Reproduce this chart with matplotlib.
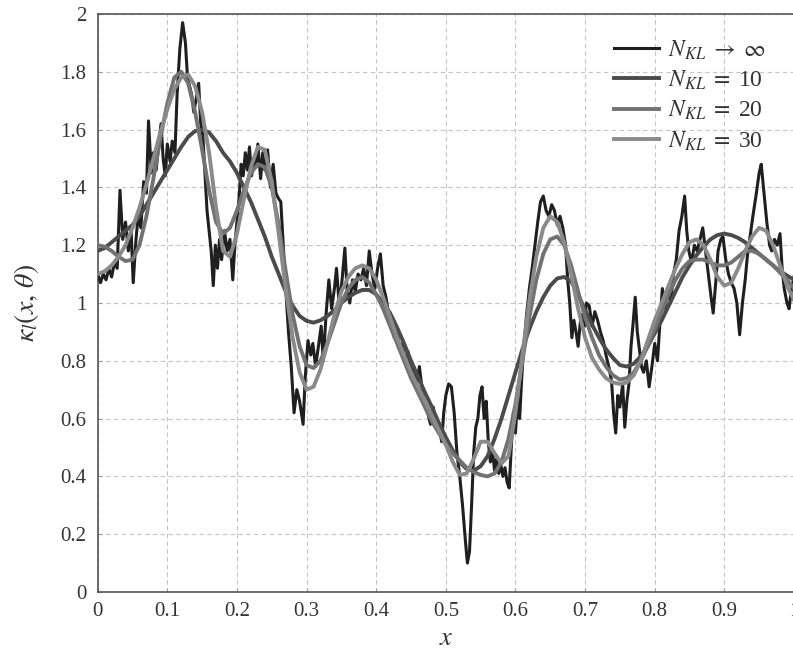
import numpy as np
import matplotlib
matplotlib.use("Agg")
import matplotlib.pyplot as plt

plt.rcParams["font.family"] = ["Liberation Serif", "DejaVu Serif"]
plt.rcParams["mathtext.fontset"] = "stix"

# Smooth truncated expansions, sampled every 0.01 on [0, 1]
x_smooth = [round(0.01 * i, 2) for i in range(101)]

k_n10 = [1.18, 1.19, 1.21, 1.23, 1.25, 1.27, 1.30, 1.34, 1.38, 1.42,
         1.46, 1.50, 1.54, 1.575, 1.595, 1.60, 1.59, 1.56, 1.52, 1.49,
         1.45, 1.40, 1.35, 1.29, 1.23, 1.16, 1.10, 1.04, 0.99, 0.955,
         0.938, 0.932, 0.94, 0.955, 0.975, 1.00, 1.02, 1.035, 1.045, 1.045,
         1.03, 1.00, 0.965, 0.915, 0.86, 0.80, 0.745, 0.69, 0.64, 0.585,
         0.535, 0.49, 0.45, 0.425, 0.42, 0.435, 0.47, 0.53, 0.60, 0.68,
         0.76, 0.84, 0.91, 0.97, 1.02, 1.06, 1.085, 1.09, 1.075, 1.03,
         0.975, 0.925, 0.88, 0.84, 0.81, 0.785, 0.78, 0.79, 0.815, 0.85,
         0.895, 0.94, 0.99, 1.04, 1.09, 1.13, 1.165, 1.195, 1.22, 1.235,
         1.24, 1.235, 1.225, 1.21, 1.19, 1.17, 1.15, 1.13, 1.11, 1.095,
         1.08]

k_n20 = [1.20, 1.195, 1.18, 1.16, 1.145, 1.15, 1.20, 1.30, 1.43, 1.57,
         1.69, 1.78, 1.80, 1.76, 1.66, 1.53, 1.39, 1.28, 1.24, 1.26,
         1.32, 1.39, 1.45, 1.48, 1.47, 1.40, 1.27, 1.11, 0.96, 0.85,
         0.785, 0.775, 0.80, 0.86, 0.93, 1.00, 1.05, 1.08, 1.09, 1.07,
         1.03, 0.98, 0.92, 0.86, 0.80, 0.74, 0.69, 0.64, 0.59, 0.55,
         0.51, 0.48, 0.455, 0.43, 0.415, 0.405, 0.40, 0.41, 0.45, 0.53,
         0.65, 0.80, 0.95, 1.08, 1.17, 1.22, 1.23, 1.20, 1.13, 1.04,
         0.95, 0.88, 0.82, 0.78, 0.75, 0.735, 0.74, 0.76, 0.80, 0.85,
         0.91, 0.97, 1.03, 1.08, 1.12, 1.145, 1.15, 1.15, 1.14, 1.13,
         1.13, 1.14, 1.16, 1.18, 1.18, 1.17, 1.15, 1.13, 1.105, 1.08,
         1.05]

k_n30 = [1.10, 1.11, 1.13, 1.16, 1.20, 1.26, 1.33, 1.41, 1.50, 1.59,
         1.67, 1.74, 1.78, 1.79, 1.75, 1.66, 1.52, 1.33, 1.18, 1.16,
         1.24, 1.36, 1.47, 1.54, 1.53, 1.42, 1.24, 1.05, 0.88, 0.76,
         0.70, 0.71, 0.77, 0.86, 0.96, 1.04, 1.09, 1.12, 1.13, 1.12,
         1.08, 1.02, 0.95, 0.88, 0.82, 0.76, 0.71, 0.66, 0.61, 0.56,
         0.51, 0.45, 0.405, 0.41, 0.46, 0.52, 0.52, 0.48, 0.445, 0.47,
         0.62, 0.82, 1.01, 1.16, 1.26, 1.30, 1.28, 1.21, 1.10, 0.98,
         0.88, 0.81, 0.77, 0.74, 0.725, 0.72, 0.725, 0.75, 0.80, 0.87,
         0.94, 1.00, 1.06, 1.12, 1.17, 1.21, 1.22, 1.20, 1.15, 1.09,
         1.06, 1.07, 1.12, 1.18, 1.23, 1.26, 1.25, 1.20, 1.13, 1.06,
         1.01]

# Full (untruncated) field
x_full = [0.000, 0.004, 0.008, 0.012, 0.016, 0.020, 0.024, 0.028, 0.032, 0.036,
          0.040, 0.044, 0.048, 0.051, 0.055, 0.058, 0.062, 0.066, 0.070, 0.073,
          0.077, 0.080, 0.084, 0.088, 0.091, 0.094, 0.097, 0.100, 0.104, 0.107,
          0.111, 0.114, 0.118, 0.122, 0.126, 0.129, 0.132, 0.135, 0.138, 0.141,
          0.145, 0.148, 0.151, 0.154, 0.157, 0.160, 0.163, 0.166, 0.169, 0.172,
          0.175, 0.178, 0.182, 0.186, 0.190, 0.194, 0.197, 0.200, 0.203, 0.206,
          0.209, 0.212, 0.215, 0.218, 0.221, 0.224, 0.227, 0.230, 0.234, 0.237,
          0.240, 0.244, 0.248, 0.252, 0.256, 0.260, 0.263, 0.266, 0.270, 0.274,
          0.278, 0.282, 0.286, 0.290, 0.295, 0.298, 0.302, 0.306, 0.309, 0.313,
          0.317, 0.321, 0.324, 0.328, 0.332, 0.336, 0.340, 0.343, 0.347, 0.351,
          0.355, 0.358, 0.362, 0.366, 0.370, 0.374, 0.378, 0.382, 0.386, 0.390,
          0.394, 0.398, 0.402, 0.406, 0.410, 0.414, 0.418, 0.422, 0.426, 0.430,
          0.434, 0.438, 0.442, 0.446, 0.450, 0.454, 0.458, 0.462, 0.466, 0.470,
          0.474, 0.478, 0.482, 0.486, 0.490, 0.494, 0.497, 0.500, 0.504, 0.508,
          0.512, 0.516, 0.520, 0.524, 0.528, 0.531, 0.534, 0.537, 0.540, 0.543,
          0.546, 0.549, 0.552, 0.555, 0.558, 0.561, 0.564, 0.567, 0.570, 0.573,
          0.576, 0.579, 0.582, 0.585, 0.588, 0.591, 0.594, 0.597, 0.600, 0.603,
          0.606, 0.609, 0.612, 0.616, 0.620, 0.624, 0.628, 0.632, 0.636, 0.640,
          0.644, 0.648, 0.652, 0.656, 0.660, 0.664, 0.668, 0.672, 0.675, 0.678,
          0.681, 0.684, 0.687, 0.690, 0.693, 0.696, 0.699, 0.702, 0.706, 0.710,
          0.714, 0.718, 0.722, 0.726, 0.730, 0.734, 0.738, 0.741, 0.744, 0.747,
          0.750, 0.754, 0.757, 0.760, 0.763, 0.766, 0.769, 0.772, 0.775, 0.778,
          0.781, 0.784, 0.788, 0.792, 0.796, 0.800, 0.804, 0.808, 0.811, 0.815,
          0.819, 0.823, 0.827, 0.831, 0.835, 0.839, 0.843, 0.846, 0.849, 0.853,
          0.857, 0.861, 0.865, 0.869, 0.873, 0.877, 0.881, 0.884, 0.888, 0.891,
          0.895, 0.898, 0.902, 0.906, 0.910, 0.914, 0.918, 0.922, 0.926, 0.930,
          0.933, 0.937, 0.941, 0.946, 0.950, 0.953, 0.957, 0.961, 0.965, 0.968,
          0.972, 0.976, 0.980, 0.983, 0.986, 0.990, 0.993, 0.996, 1.000]

k_full = [1.10, 1.07, 1.10, 1.08, 1.12, 1.09, 1.14, 1.12, 1.39, 1.22,
          1.28, 1.18, 1.25, 1.07, 1.22, 1.30, 1.26, 1.42, 1.38, 1.63,
          1.45, 1.52, 1.46, 1.56, 1.62, 1.50, 1.44, 1.55, 1.49, 1.56,
          1.52, 1.72, 1.88, 1.97, 1.90, 1.78, 1.75, 1.72, 1.66, 1.70,
          1.76, 1.62, 1.58, 1.45, 1.32, 1.25, 1.18, 1.06, 1.20, 1.12,
          1.22, 1.15, 1.25, 1.18, 1.22, 1.08, 1.20, 1.28, 1.36, 1.48,
          1.44, 1.52, 1.46, 1.54, 1.44, 1.50, 1.47, 1.55, 1.43, 1.52,
          1.46, 1.53, 1.40, 1.48, 1.38, 1.36, 1.35, 1.22, 1.05, 0.90,
          0.78, 0.62, 0.70, 0.66, 0.58, 0.74, 0.87, 0.82, 0.86, 0.78,
          0.85, 0.92, 0.80, 0.96, 1.08, 0.98, 1.05, 1.12, 0.99, 1.08,
          1.19, 1.05, 1.00, 1.08, 1.04, 1.10, 1.08, 1.12, 1.06, 1.18,
          1.10, 1.05, 1.12, 1.17, 1.06, 1.02, 0.96, 0.92, 0.88, 0.90,
          0.84, 0.86, 0.80, 0.83, 0.76, 0.78, 0.72, 0.78, 0.70, 0.64,
          0.62, 0.58, 0.64, 0.57, 0.58, 0.52, 0.62, 0.68, 0.72, 0.71,
          0.62, 0.48, 0.40, 0.30, 0.18, 0.10, 0.14, 0.30, 0.48, 0.57,
          0.60, 0.68, 0.71, 0.60, 0.66, 0.52, 0.45, 0.49, 0.42, 0.46,
          0.41, 0.44, 0.40, 0.43, 0.38, 0.36, 0.50, 0.62, 0.55, 0.66,
          0.60, 0.74, 0.85, 0.96, 1.05, 1.12, 1.20, 1.28, 1.35, 1.37,
          1.32, 1.30, 1.34, 1.32, 1.27, 1.30, 1.26, 1.20, 1.08, 1.00,
          0.88, 0.94, 0.90, 0.85, 0.93, 0.96, 0.92, 1.00, 0.99, 0.92,
          0.97, 0.94, 0.90, 0.87, 0.82, 0.78, 0.73, 0.62, 0.55, 0.68,
          0.64, 0.72, 0.57, 0.66, 0.72, 0.85, 0.93, 1.02, 0.90, 0.84,
          0.78, 0.76, 0.80, 0.71, 0.78, 0.86, 0.80, 0.95, 1.05, 0.98,
          1.04, 1.00, 1.10, 1.15, 1.25, 1.30, 1.37, 1.25, 1.18, 1.14,
          1.20, 1.18, 1.22, 1.26, 1.18, 1.10, 1.02, 0.965, 1.08, 1.18,
          1.22, 1.23, 1.15, 1.10, 1.07, 1.05, 1.00, 0.89, 1.00, 1.08,
          1.16, 1.23, 1.30, 1.38, 1.45, 1.48, 1.38, 1.28, 1.20, 1.18,
          1.22, 1.20, 1.24, 1.12, 1.05, 1.00, 0.98, 1.04, 1.09]

x_ticks = [0, 0.1, 0.2, 0.3, 0.4, 0.5, 0.6, 0.7, 0.8, 0.9, 1]
x_tick_labels = ["0", "0.1", "0.2", "0.3", "0.4", "0.5", "0.6", "0.7", "0.8", "0.9", "1"]
y_ticks = [0, 0.2, 0.4, 0.6, 0.8, 1.0, 1.2, 1.4, 1.6, 1.8, 2.0]
y_tick_labels = ["0", "0.2", "0.4", "0.6", "0.8", "1", "1.2", "1.4", "1.6", "1.8", "2"]

labels = [r"$N_{KL}\;\rightarrow\;\infty$", r"$N_{KL}\;=\;$10",
          r"$N_{KL}\;=\;$20", r"$N_{KL}\;=\;$30"]

fig = plt.figure(figsize=(7.93, 6.56), dpi=100)
# right edge of the frame sits just past the canvas border
ax = fig.add_axes([0.1232, 0.0976, 0.8780, 0.8811])

ax.plot(x_full, k_full, color="#1f1f1f", lw=2.2, label=labels[0], zorder=3)
ax.plot(x_smooth, k_n10, color="#4b4b4b", lw=2.8, label=labels[1], zorder=4)
ax.plot(x_smooth, k_n20, color="#727272", lw=2.8, label=labels[2], zorder=5)
ax.plot(x_smooth, k_n30, color="#8a8a8a", lw=2.8, label=labels[3], zorder=6)

ax.set_xlim(0, 1)
ax.set_ylim(0, 2)
ax.set_xticks(x_ticks)
ax.set_xticklabels(x_tick_labels)
ax.set_yticks(y_ticks)
ax.set_yticklabels(y_tick_labels)
ax.tick_params(axis="both", direction="in", length=3, width=0.8,
               color="#999999", labelsize=15, labelcolor="#333333")
ax.tick_params(axis="x", pad=7)
ax.tick_params(axis="y", pad=8)

ax.grid(True, color="#c4c4c4", linestyle=(0, (4, 3)), linewidth=0.8, zorder=0)
ax.set_axisbelow(True)
for side, sp in ax.spines.items():
    sp.set_color("#555555")
    sp.set_linewidth(1.2)

ax.set_xlabel(r"$x$", fontsize=19, color="#333333", labelpad=5)
ax.set_ylabel(r"$\kappa_l(x,\,\theta)$", fontsize=20, color="#333333", labelpad=14)

leg = ax.legend(loc="upper left", bbox_to_anchor=(0.742, 0.958), frameon=False,
                fontsize=17, handlelength=1.9, handletextpad=0.38,
                labelspacing=0.3, borderaxespad=0.0, borderpad=0.0)
for t in leg.get_texts():
    t.set_color("#333333")

fig.savefig("out.png", dpi=100, facecolor="white")
